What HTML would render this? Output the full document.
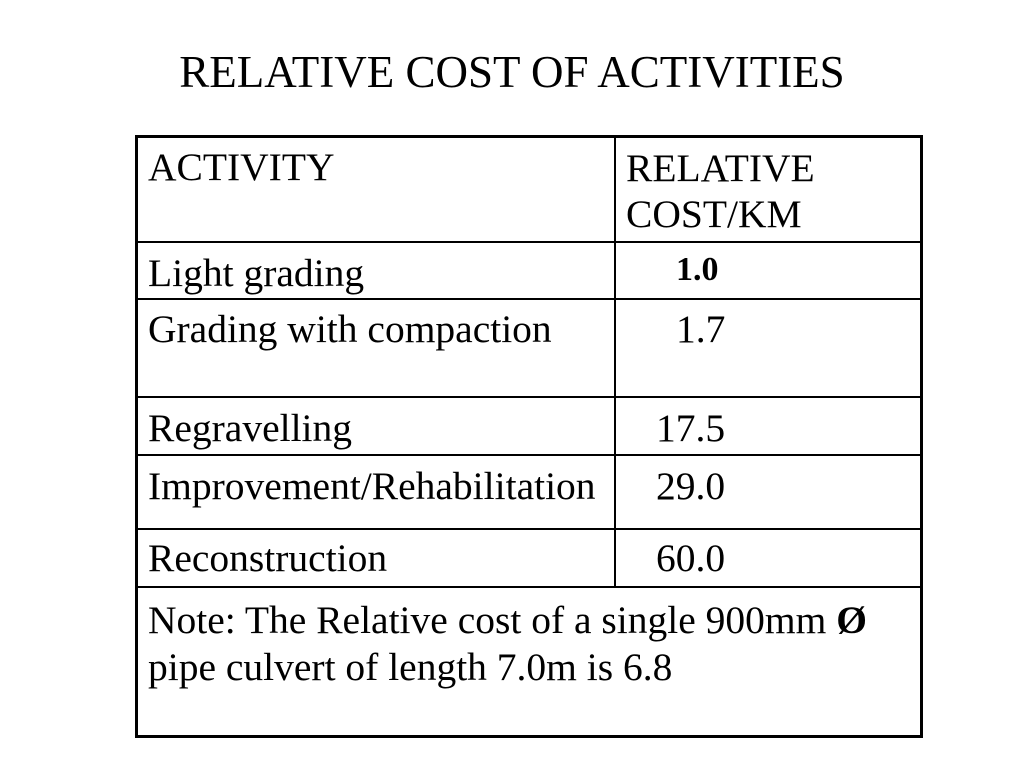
<!DOCTYPE html>
<html><head><meta charset="utf-8"><style>
body{margin:0;width:1024px;height:768px;background:#fff;position:relative;overflow:hidden;font-family:"Liberation Serif",serif;color:#000}
.t{position:absolute;font-size:39.5px;line-height:39.5px;white-space:nowrap}
.h{position:absolute;background:#000}
</style></head><body>
<div class="t" style="left:0;width:1024px;text-align:center;top:50px;font-size:45px;line-height:45px">RELATIVE COST OF ACTIVITIES</div>
<div style="position:absolute;left:135px;top:135px;width:782px;height:597px;border:3px solid #000"></div>
<div class="h" style="left:614px;top:137px;width:1.5px;height:451px"></div>
<div class="h" style="left:137px;top:241px;width:783px;height:1.5px"></div>
<div class="h" style="left:137px;top:298px;width:783px;height:1.5px"></div>
<div class="h" style="left:137px;top:396px;width:783px;height:1.5px"></div>
<div class="h" style="left:137px;top:454px;width:783px;height:1.5px"></div>
<div class="h" style="left:137px;top:528px;width:783px;height:1.5px"></div>
<div class="h" style="left:137px;top:586px;width:783px;height:1.5px"></div>
<div class="t" style="left:148px;top:148px">ACTIVITY</div>
<div class="t" style="left:626px;top:145px;line-height:46px">RELATIVE<br>COST/KM</div>
<div class="t" style="left:148px;top:254px">Light grading</div>
<div class="t" style="left:676px;top:253px;font-size:34px;line-height:34px;font-weight:bold">1.0</div>
<div class="t" style="left:148px;top:310px">Grading with compaction</div>
<div class="t" style="left:676px;top:310px">1.7</div>
<div class="t" style="left:148px;top:409px">Regravelling</div>
<div class="t" style="left:656px;top:409px">17.5</div>
<div class="t" style="left:148px;top:467px">Improvement/Rehabilitation</div>
<div class="t" style="left:656px;top:467px">29.0</div>
<div class="t" style="left:148px;top:539px">Reconstruction</div>
<div class="t" style="left:656px;top:539px">60.0</div>
<div class="t" style="left:148px;top:597px;line-height:47px">Note: The Relative cost of a single 900mm <b>Ø</b><br>pipe culvert of length 7.0m is 6.8</div>
</body></html>
